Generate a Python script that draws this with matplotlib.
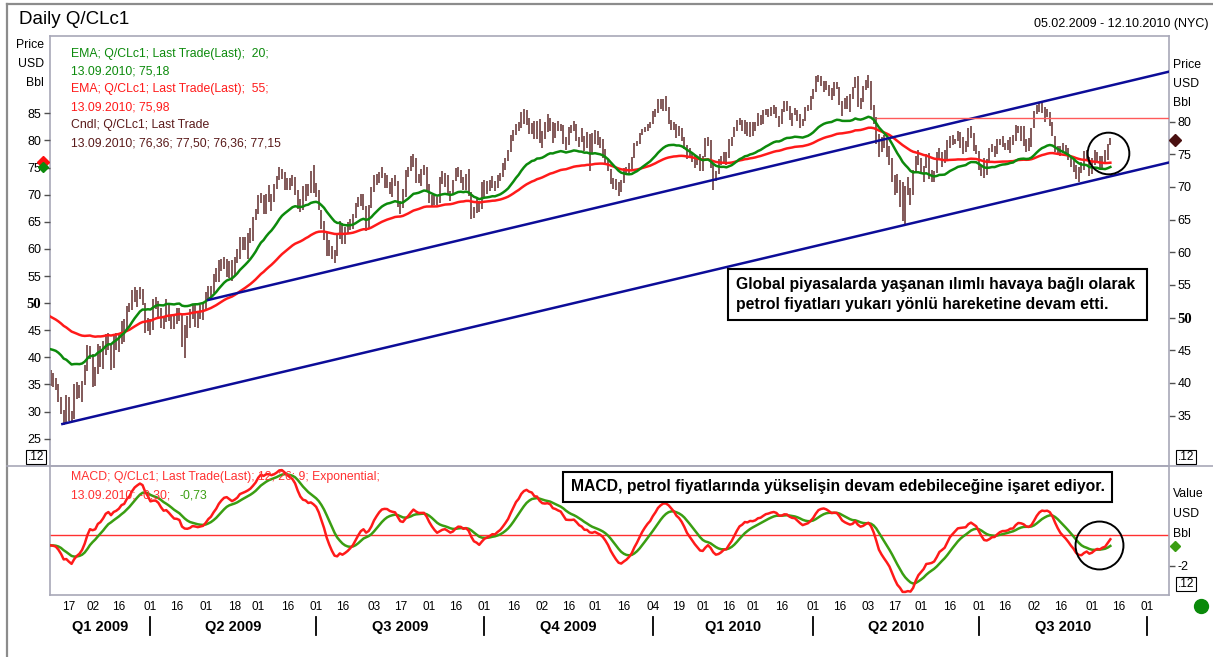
import numpy as np
import pandas as pd
import matplotlib
matplotlib.use('Agg')
import matplotlib.pyplot as plt
from matplotlib.lines import Line2D
from matplotlib.patches import Rectangle

plt.rcParams['font.family'] = ['Liberation Sans', 'DejaVu Sans']

# ---------------- data (daily Q/CLc1, 05.02.2009 - 13.09.2010) ----------------
holidays = ['2009-02-16', '2009-04-10', '2009-05-25', '2009-07-03', '2009-09-07',
            '2009-11-26', '2009-12-25', '2010-01-01', '2010-01-18', '2010-02-15',
            '2010-04-02', '2010-05-31', '2010-07-05', '2010-09-06']

close = [
    # Feb 2009
    41.17, 40.17, 39.56, 37.55, 35.94, 33.98, 37.51, 34.93, 34.62, 39.48, 38.94, 38.44, 39.96, 42.50, 45.22, 44.76,
    # Mar 2009
    40.15, 41.65, 45.38, 43.61, 45.52, 47.07, 45.71, 42.33, 47.03, 46.25, 47.35, 49.16, 48.14, 51.61, 51.06,
    53.80, 53.98, 53.77, 54.34, 52.38, 48.41, 49.66,
    # Apr 2009
    48.39, 52.64, 52.51, 51.05, 49.15, 49.38, 52.24, 50.05, 49.41, 49.25, 50.98, 50.33, 45.88, 48.55, 49.62,
    50.55, 51.55, 50.14, 49.92, 50.97, 51.12,
    # May 2009
    53.20, 54.47, 54.16, 56.34, 56.71, 58.63, 58.50, 58.85, 58.02, 56.34, 56.34, 59.03, 60.10, 62.04, 61.05,
    61.67, 62.45, 63.45, 65.08, 66.31,
    # Jun 2009
    68.58, 68.55, 66.12, 68.81, 68.44, 68.09, 70.01, 71.33, 72.68, 72.04, 70.62, 70.47, 71.03, 71.37, 69.55,
    66.93, 67.14, 68.67, 70.39, 69.16, 71.49, 69.89,
    # Jul 2009
    69.31, 66.73, 64.05, 62.93, 60.14, 60.41, 59.89, 59.69, 62.02, 64.62, 61.54, 63.56, 63.98, 64.72, 65.40,
    67.23, 68.05, 68.38, 67.23, 63.35, 66.94, 69.45,
    # Aug 2009
    71.58, 71.42, 71.97, 71.94, 70.93, 70.60, 69.45, 70.16, 70.52, 67.51, 66.75, 69.19, 72.42, 72.54, 73.89,
    74.37, 71.05, 71.43, 72.49, 72.74, 69.96,
    # Sep 2009
    68.05, 68.05, 67.96, 68.02, 71.10, 71.31, 70.91, 69.29, 68.86, 70.93, 72.51, 72.47, 71.04, 69.71, 71.55,
    68.97, 65.89, 66.02, 67.71, 66.71, 70.61,
    # Oct 2009
    70.82, 69.95, 70.41, 70.88, 69.57, 71.69, 71.77, 73.27, 74.15, 75.18, 77.58, 78.53, 79.61, 79.09, 81.37,
    80.95, 80.50, 78.68, 79.55, 77.46, 79.87, 77.00,
    # Nov 2009
    78.13, 79.60, 80.40, 79.62, 77.43, 79.43, 79.05, 79.28, 76.94, 76.35, 78.90, 79.14, 79.58, 77.46, 76.72,
    77.56, 76.02, 77.96, 76.05, 77.28,
    # Dec 2009
    78.37, 76.60, 76.46, 75.47, 73.93, 72.62, 70.67, 70.54, 69.87, 69.51, 70.69, 72.66, 72.58, 73.36, 74.40,
    76.67, 76.67, 78.05, 78.77, 78.87, 79.28, 79.36,
    # Jan 2010
    81.51, 81.77, 83.18, 82.66, 82.75, 81.89, 80.79, 79.65, 79.39, 78.00, 79.02, 77.62, 76.08, 74.54, 75.26,
    74.71, 73.67, 73.64, 72.89,
    # Feb 2010
    74.43, 77.23, 76.98, 73.14, 71.19, 71.89, 73.75, 74.52, 75.28, 74.13, 77.01, 77.33, 79.06, 79.81, 80.16,
    78.86, 80.00, 78.17, 79.66,
    # Mar 2010
    78.70, 79.68, 80.87, 80.21, 81.50, 81.87, 81.49, 82.09, 82.11, 81.24, 79.80, 81.70, 82.93, 82.20, 80.68,
    81.25, 81.91, 80.29, 80.00, 80.00, 82.17, 82.37, 83.76,
    # Apr 2010
    84.87, 86.62, 86.84, 85.88, 85.73, 84.92, 84.34, 84.05, 85.84, 85.51, 83.24, 82.20, 83.45, 83.68, 83.70,
    85.12, 86.84, 82.44, 83.22, 85.17, 86.15,
    # May 2010
    86.19, 82.74, 79.97, 77.11, 75.11, 76.80, 76.37, 75.65, 74.38, 71.61, 70.08, 69.41, 69.87, 68.01, 70.04,
    70.21, 68.75, 71.51, 74.55, 73.97,
    # Jun 2010
    72.58, 72.86, 74.61, 71.51, 71.44, 71.99, 74.38, 75.48, 73.78, 74.12, 76.94, 77.67, 76.79, 77.18, 77.76,
    76.35, 76.35, 76.51, 78.86, 78.26, 75.94, 75.63,
    # Jul 2010
    72.95, 72.14, 71.98, 74.07, 75.45, 76.09, 75.01, 77.01, 77.04, 76.62, 76.01, 76.54, 77.45, 76.66, 79.30,
    78.98, 77.50, 77.00, 75.97, 76.97, 78.95,
    # Aug 2010
    81.34, 82.55, 82.49, 82.01, 80.70, 81.48, 80.25, 78.02, 75.74, 75.39, 75.24, 75.77, 75.42, 74.43, 73.46,
    73.10, 71.63, 72.52, 73.36, 75.17, 74.70, 71.92,
    # Sep 2010
    73.91, 74.91, 74.60, 73.09, 74.67, 74.25, 76.45, 77.15,
]

high = [
    42.0, 41.5, 40.8, 39.9, 37.8, 35.9, 38.1, 37.8, 35.7, 39.9, 40.1, 39.6, 40.3, 42.8, 45.8, 45.6,
    44.4, 42.5, 45.9, 45.7, 46.4, 47.5, 47.6, 46.0, 47.3, 47.6, 47.6, 49.4, 49.8, 51.8, 52.2,
    54.2, 54.7, 54.2, 54.7, 54.3, 52.3, 49.9,
    49.8, 52.9, 53.1, 52.6, 51.5, 50.1, 52.8, 52.3, 50.3, 50.3, 51.5, 51.4, 50.5, 48.9, 50.3,
    51.3, 52.0, 51.9, 51.0, 51.9, 52.3,
    53.9, 54.8, 54.9, 56.6, 57.6, 58.8, 58.9, 59.2, 58.9, 58.6, 58.8, 59.2, 60.5, 62.3, 62.3,
    62.3, 62.9, 63.7, 65.4, 66.6,
    68.7, 69.1, 68.7, 69.0, 70.3, 68.9, 70.5, 71.7, 73.0, 72.8, 72.3, 71.3, 71.4, 71.8, 71.6,
    69.6, 68.1, 70.2, 70.5, 70.4, 72.4, 73.3,
    70.6, 69.5, 66.5, 64.8, 63.1, 61.9, 61.0, 60.4, 62.6, 64.8, 64.5, 63.9, 64.6, 65.1, 65.9,
    67.6, 68.4, 68.9, 68.9, 67.1, 67.3, 70.0,
    71.9, 72.0, 72.3, 73.0, 72.2, 71.8, 70.8, 71.4, 71.9, 70.9, 67.9, 69.7, 72.6, 73.1, 74.7,
    75.0, 74.5, 72.0, 72.8, 73.4, 73.1,
    70.5, 68.8, 68.9, 68.5, 71.5, 72.4, 72.2, 71.9, 69.4, 71.0, 72.9, 73.0, 72.6, 71.5, 72.0,
    72.8, 69.3, 66.9, 68.2, 67.9, 70.8,
    71.1, 70.9, 71.0, 71.7, 70.9, 71.9, 72.2, 73.6, 74.4, 75.6, 78.0, 78.8, 79.7, 80.0, 81.5,
    82.0, 81.8, 80.6, 79.8, 80.1, 80.1, 80.4,
    78.6, 79.9, 81.1, 80.5, 80.0, 79.8, 80.1, 79.7, 79.5, 77.6, 79.2, 79.5, 80.1, 79.7, 77.7,
    79.0, 77.8, 78.4, 78.1, 78.2,
    78.7, 78.5, 77.6, 77.3, 75.8, 74.2, 72.7, 71.4, 71.2, 70.8, 71.0, 72.9, 73.1, 73.7, 74.6,
    76.8, 77.1, 78.2, 78.9, 79.2, 79.6, 79.9,
    81.7, 81.9, 83.5, 83.4, 83.5, 83.95, 82.3, 80.3, 80.0, 79.7, 79.3, 79.0, 77.7, 76.5, 75.9,
    75.4, 74.7, 74.8, 75.0,
    74.8, 77.5, 77.7, 77.2, 73.6, 72.5, 74.3, 74.8, 75.4, 75.4, 77.3, 77.6, 79.2, 80.2, 80.5,
    80.3, 80.3, 80.0, 79.9,
    79.9, 80.0, 81.3, 81.0, 81.8, 82.0, 81.9, 82.3, 82.5, 82.3, 80.9, 81.9, 83.2, 83.1, 82.4,
    81.4, 82.1, 81.8, 81.1, 80.4, 82.3, 82.5, 83.9,
    85.0, 87.0, 87.1, 87.0, 86.3, 86.3, 85.6, 85.1, 86.0, 86.0, 85.3, 83.2, 83.6, 84.0, 84.2,
    85.3, 86.9, 87.0, 83.7, 85.5, 86.4,
    87.2, 86.3, 82.6, 80.7, 78.1, 77.6, 77.9, 77.2, 76.3, 74.5, 71.9, 72.0, 71.1, 70.7, 70.2,
    71.5, 69.9, 72.6, 74.7, 75.7,
    74.4, 73.2, 75.1, 75.2, 72.6, 72.4, 75.3, 76.0, 75.4, 75.6, 77.2, 77.8, 78.0, 77.4, 78.6,
    78.4, 77.6, 77.1, 79.0, 79.4, 78.3, 76.4,
    75.5, 73.3, 74.5, 74.3, 76.0, 76.6, 76.3, 77.3, 77.4, 77.8, 76.8, 77.2, 77.6, 78.0, 79.5,
    79.4, 79.4, 79.3, 77.3, 77.5, 79.1,
    81.6, 82.6, 82.9, 82.8, 82.3, 81.9, 81.5, 80.0, 77.8, 76.3, 76.2, 76.8, 76.4, 75.9, 74.7,
    74.1, 73.4, 73.0, 73.8, 75.5, 75.6, 74.6,
    74.5, 75.6, 75.4, 74.8, 74.8, 75.6, 76.6, 77.5,
]

low = [
    39.5, 39.4, 38.9, 37.0, 35.2, 33.6, 33.9, 34.1, 34.0, 34.5, 37.6, 37.7, 37.1, 39.6, 41.8, 43.6,
    39.4, 39.5, 41.4, 42.4, 42.1, 44.2, 45.1, 41.9, 42.3, 45.0, 44.8, 46.0, 46.2, 47.8, 50.8,
    51.2, 52.4, 51.6, 52.8, 51.9, 47.6, 48.0,
    47.4, 48.1, 51.3, 50.0, 48.4, 48.3, 49.3, 49.5, 48.2, 48.2, 49.0, 49.5, 45.5, 43.8, 46.8,
    48.4, 49.8, 48.6, 48.4, 49.8, 49.6,
    51.3, 52.6, 52.9, 53.7, 55.4, 55.5, 57.2, 57.4, 56.2, 56.0, 55.6, 56.3, 58.4, 59.0, 60.3,
    60.3, 59.0, 61.4, 61.8, 64.9,
    65.9, 67.6, 65.9, 65.9, 67.7, 66.3, 67.7, 69.7, 71.0, 71.2, 69.6, 69.5, 69.5, 70.2, 68.8,
    66.7, 66.1, 66.5, 67.8, 68.6, 69.1, 69.1,
    68.4, 66.4, 63.6, 61.9, 59.5, 59.5, 58.9, 58.3, 59.5, 62.1, 61.3, 61.2, 63.0, 63.4, 63.5,
    65.2, 66.9, 67.1, 66.5, 63.2, 63.6, 66.8,
    69.3, 70.3, 70.6, 71.3, 69.8, 69.9, 68.9, 68.5, 70.1, 67.0, 65.9, 66.8, 68.4, 71.6, 72.5,
    73.0, 70.6, 70.6, 70.1, 71.8, 69.6,
    67.6, 67.1, 67.2, 67.3, 67.6, 70.4, 70.0, 68.8, 67.9, 68.7, 70.9, 71.5, 70.6, 69.6, 69.6,
    68.6, 65.1, 65.3, 66.0, 66.1, 66.7,
    68.4, 69.0, 69.4, 69.9, 69.4, 69.8, 70.9, 71.5, 72.6, 74.0, 75.3, 77.0, 78.0, 78.6, 79.1,
    79.6, 79.5, 78.1, 78.1, 77.3, 77.4, 76.7,
    76.0, 77.4, 78.4, 78.6, 76.8, 77.5, 78.5, 78.6, 76.6, 75.7, 76.5, 78.3, 78.6, 77.1, 76.1,
    76.9, 75.5, 75.9, 72.4, 75.2,
    76.6, 76.4, 75.9, 74.5, 73.5, 72.4, 70.5, 69.7, 69.6, 68.6, 69.3, 70.6, 71.9, 72.2, 72.8,
    74.4, 76.2, 76.6, 77.9, 78.4, 78.6, 79.1,
    79.6, 80.7, 81.3, 81.9, 81.6, 81.6, 79.6, 78.8, 78.8, 77.5, 77.8, 77.1, 75.8, 74.3, 74.4,
    73.8, 72.9, 73.3, 72.4,
    72.4, 74.6, 76.3, 72.9, 69.5, 70.9, 72.0, 73.3, 73.8, 73.3, 74.4, 76.2, 77.6, 78.5, 79.5,
    78.5, 78.1, 77.8, 77.7,
    77.8, 78.6, 79.4, 79.5, 79.7, 81.0, 80.7, 80.8, 81.1, 80.6, 79.2, 79.6, 81.5, 81.7, 80.2,
    79.4, 81.0, 80.1, 79.1, 79.4, 80.1, 81.6, 81.8,
    83.4, 84.6, 86.0, 85.5, 84.6, 84.8, 84.0, 83.3, 84.0, 85.0, 82.6, 80.9, 82.0, 81.9, 81.5,
    83.4, 85.1, 82.2, 81.9, 83.0, 84.9,
    85.2, 81.8, 79.6, 76.6, 74.6, 75.3, 75.9, 74.6, 73.3, 70.7, 68.7, 69.1, 66.9, 64.8, 64.2,
    68.7, 67.2, 68.7, 72.3, 73.4,
    72.0, 70.8, 72.9, 71.2, 70.8, 70.8, 72.2, 74.3, 73.0, 73.7, 74.2, 76.0, 76.4, 76.6, 77.0,
    76.0, 75.1, 75.3, 76.1, 77.5, 75.5, 75.0,
    72.6, 71.7, 71.4, 71.8, 73.9, 75.3, 74.6, 75.1, 76.4, 76.1, 75.6, 75.6, 75.2, 76.4, 77.0,
    78.2, 77.0, 76.2, 75.4, 75.5, 76.1,
    79.0, 81.1, 81.5, 81.4, 80.0, 80.7, 79.3, 77.8, 75.3, 75.0, 74.7, 75.2, 74.7, 74.2, 73.0,
    72.3, 71.2, 70.8, 72.2, 72.6, 74.1, 71.7,
    72.0, 73.4, 73.9, 72.9, 72.8, 73.9, 74.1, 76.36,
]

# indicator starting values at 05.02.2009
ema20_start, ema55_start = 41.5, 47.5
ema12_start, ema26_start, signal_start = 41.1, 41.8, -0.70

# x-axis tick dates and quarter labels
tick_dates = ['2009-02-17', '2009-03-02', '2009-03-16', '2009-04-01', '2009-04-16', '2009-05-01',
              '2009-05-18', '2009-06-01', '2009-06-16', '2009-07-01', '2009-07-16', '2009-08-03',
              '2009-08-17', '2009-09-01', '2009-09-16', '2009-10-01', '2009-10-16', '2009-11-02',
              '2009-11-16', '2009-12-01', '2009-12-16', '2010-01-04', '2010-01-19', '2010-02-01',
              '2010-02-16', '2010-03-01', '2010-03-16', '2010-04-01', '2010-04-16', '2010-05-03',
              '2010-05-17', '2010-06-01', '2010-06-16', '2010-07-01', '2010-07-16', '2010-08-02',
              '2010-08-16', '2010-09-01', '2010-09-16', '2010-10-01']
quarter_starts = ['2009-04-01', '2009-07-01', '2009-10-01', '2010-01-04', '2010-04-01', '2010-07-01', '2010-10-01']
quarter_labels = ['Q1 2009', 'Q2 2009', 'Q3 2009', 'Q4 2009', 'Q1 2010', 'Q2 2010', 'Q3 2010']

left_ticks = [25, 30, 35, 40, 45, 50, 55, 60, 65, 70, 75, 80, 85]
right_ticks = [35, 40, 45, 50, 55, 60, 65, 70, 75, 80]

# trend lines / annotations (date index, price on right scale)
trend_low_x, trend_low_y = [4.5, 425.3], [33.7, 73.75]
trend_high_x, trend_high_y = [60.0, 425.3], [52.7, 87.66]
resist_x, resist_y = [314.1, 425.3], [80.6, 80.6]

# ---------------- computations ----------------
days = pd.bdate_range('2009-02-05', '2010-10-12')
days = days[~days.isin(pd.to_datetime(holidays))]
pos = {d.strftime('%Y-%m-%d'): i for i, d in enumerate(days)}

close = np.array(close)
high = np.array(high)
low = np.array(low)
n = len(close)
assert len(high) == n and len(low) == n, (len(close), len(high), len(low))
x = np.arange(n)


def ema(values, period, start):
    a = 2.0 / (period + 1)
    out = [start]
    for v in values[1:]:
        out.append(out[-1] + a * (v - out[-1]))
    return np.array(out)


ema20 = ema(close, 20, ema20_start)
ema55 = ema(close, 55, ema55_start)
macd = ema(close, 12, ema12_start) - ema(close, 26, ema26_start)
signal = ema(np.concatenate([[signal_start], macd[1:]]), 9, signal_start)

# ---------------- figure ----------------
W, H = 1213, 657
fig = plt.figure(figsize=(W / 100, H / 100), dpi=100)
fig.patch.set_facecolor('white')


def fx(p):
    return p / W


def fy(p):
    return 1 - p / H


L, R, T, MID, B = 50, 1169, 36, 466, 595
ax_c = fig.add_axes([fx(L), fy(MID), fx(R) - fx(L), fy(T) - fy(MID)])
ax_e = ax_c.twinx()
ax_m = fig.add_axes([fx(L), fy(B), fx(R) - fx(L), fy(MID) - fy(B)])

CANDLE = '#673434'
GREEN = '#0c8a0c'
RED = '#ff1a1a'
BLUE = '#0c0c98'
SPINE = '#a8a8b8'
XLIM = (-0.2, 425.3)

# candles (right scale)
ax_c.vlines(x, low, high, color=CANDLE, lw=1.15, zorder=2)
ax_c.set_ylim(27.27, 93.12)
ax_c.set_xlim(*XLIM)

# EMAs (left scale)
ax_e.plot(x, ema55, color=RED, lw=1.8, zorder=3)
ax_e.plot(x, ema20, color=GREEN, lw=1.8, zorder=3)
ax_e.set_ylim(19.97, 99.25)
ax_e.set_xlim(*XLIM)

# trend lines etc. in candle coordinates, drawn on top
ax_e.plot(trend_low_x, trend_low_y, color=BLUE, lw=1.8, transform=ax_c.transData, zorder=4)
ax_e.plot(trend_high_x, trend_high_y, color=BLUE, lw=1.8, transform=ax_c.transData, zorder=4)
ax_e.plot(resist_x, resist_y, color='#ff5a5a', lw=1.0, transform=ax_c.transData, zorder=4)
ax_e.plot([402.1], [75.25], 'o', ms=30, mfc='none', mec='black', mew=1.4,
          transform=ax_c.transData, zorder=5)

# y axes
ax_c.yaxis.tick_right()
ax_c.set_yticks(right_ticks)
ax_c.set_yticklabels([str(t) for t in right_ticks])
ax_e.yaxis.tick_left()
ax_e.set_yticks(left_ticks)
ax_e.set_yticklabels([str(t) for t in left_ticks])
for a in (ax_c, ax_e):
    a.set_xticks([])
    a.tick_params(axis='y', direction='out', length=4.5, width=1, color='#505050',
                  labelsize=9, pad=1.8, labelcolor='black')
for a in (ax_c, ax_e):
    for lab in a.get_yticklabels():
        if lab.get_text() == '50':
            lab.set_fontweight('bold')
            lab.set_fontfamily(['Liberation Serif', 'DejaVu Serif'])
            lab.set_fontsize(10.5)

for sp in ax_e.spines.values():
    sp.set_visible(False)
for a in (ax_c, ax_m):
    for sp in a.spines.values():
        sp.set_color(SPINE)
        sp.set_linewidth(1.2)

# last value markers
ax_e.plot([-0.006], [75.98], marker='D', ms=6.5, color='#ff1010', transform=ax_e.get_yaxis_transform(),
          clip_on=False, zorder=6)
ax_e.plot([-0.006], [75.18], marker='D', ms=5.5, color='#0c8a0c', transform=ax_e.get_yaxis_transform(),
          clip_on=False, zorder=6)
ax_c.plot([1.0055], [close[-1]], marker='D', ms=6, color='#4a1010', transform=ax_c.get_yaxis_transform(),
          clip_on=False, zorder=6)

# ---------------- MACD panel ----------------
ax_m.axhline(0, color='#ff3030', lw=1.0, zorder=2)
ax_m.plot(x, signal, color='#3a9e12', lw=1.8, zorder=3)
ax_m.plot(x, macd, color=RED, lw=1.8, zorder=3)
ax_m.plot([398.6], [-0.68], 'o', ms=34.5, mfc='none', mec='black', mew=1.4, zorder=5)
ax_m.set_xlim(*XLIM)
ax_m.set_ylim(-3.90, 4.42)
ax_m.yaxis.tick_right()
ax_m.set_yticks([-2])
ax_m.set_yticklabels(['-2'])
ax_m.tick_params(axis='y', direction='out', length=4.5, width=1, color='#505050', labelsize=9, pad=1.8)
ax_m.set_xticks([pos[d] for d in tick_dates])
ax_m.set_xticklabels([d[-2:] for d in tick_dates])
ax_m.tick_params(axis='x', length=0, pad=4, labelsize=8.5)
ax_m.plot([1.0055], [signal[-1]], marker='D', ms=5.5, color='#3a9e12',
          transform=ax_m.get_yaxis_transform(), clip_on=False, zorder=6)

# quarter separators and labels
qt = ax_m.get_xaxis_transform()
bounds = [XLIM[0]] + [pos[q] for q in quarter_starts]
for q in quarter_starts:
    ax_m.plot([pos[q], pos[q]], [-0.17, -0.31], color='black', lw=1.3, transform=qt, clip_on=False)
for i, lab in enumerate(quarter_labels):
    ax_m.text((bounds[i] + bounds[i + 1]) / 2, -0.245, lab, transform=qt, ha='center', va='center',
              fontsize=10.5, fontweight='bold')

# ---------------- texts and frame ----------------
fig.text(fx(19), fy(20), 'Daily Q/CLc1', fontsize=13.5, va='center', ha='left')
fig.text(fx(1208), fy(24), '05.02.2009 - 12.10.2010 (NYC)', fontsize=9, va='center', ha='right')
for i, s in enumerate(['Price', 'USD', 'Bbl']):
    fig.text(fx(44), fy(45 + 19 * i), s, fontsize=8.8, ha='right', va='center')
    fig.text(fx(1173), fy(65 + 19 * i), s, fontsize=8.8, ha='left', va='center')
for i, s in enumerate(['Value', 'USD', 'Bbl']):
    fig.text(fx(1173), fy(494 + 20 * i), s, fontsize=8.8, ha='left', va='center')

legend_lines = [('EMA; Q/CLc1; Last Trade(Last);  20;', GREEN),
                ('13.09.2010; 75,18', GREEN),
                ('EMA; Q/CLc1; Last Trade(Last);  55;', RED),
                ('13.09.2010; 75,98', RED),
                ('Cndl; Q/CLc1; Last Trade', '#5a1a1a'),
                ('13.09.2010; 76,36; 77,50; 76,36; 77,15', '#5a1a1a')]
for i, (s, c) in enumerate(legend_lines):
    fig.text(fx(71), fy(53.5 + 17.9 * i), s, color=c, fontsize=8.8, ha='left', va='center')

fig.text(fx(71), fy(477), 'MACD; Q/CLc1; Last Trade(Last); 12; 26; 9; Exponential;', color='#ff3030',
         fontsize=8.8, ha='left', va='center')
fig.text(fx(71), fy(495), '13.09.2010; -0,30; ', color='#ff3030', fontsize=8.8, ha='left', va='center')
fig.text(fx(180), fy(495), '-0,73', color='#3a9e12', fontsize=8.8, ha='left', va='center')

# comment boxes
fig.add_artist(Rectangle((fx(728), fy(320)), fx(1147) - fx(728), fy(269) - fy(320),
                         transform=fig.transFigure, facecolor='white', edgecolor='black', lw=1.5, zorder=10))
fig.text(fx(736), fy(284), 'Global piyasalarda yaşanan ılımlı havaya bağlı olarak', fontsize=11.3,
         fontweight='bold', ha='left', va='center', zorder=11)
fig.text(fx(736), fy(304), 'petrol fiyatları yukarı yönlü hareketine devam etti.', fontsize=11.3,
         fontweight='bold', ha='left', va='center', zorder=11)
fig.add_artist(Rectangle((fx(563), fy(502)), fx(1112) - fx(563), fy(472) - fy(502),
                         transform=fig.transFigure, facecolor='white', edgecolor='black', lw=1.5, zorder=10))
fig.text(fx(571), fy(487), 'MACD, petrol fiyatlarında yükselişin devam edebileceğine işaret ediyor.',
         fontsize=11.3, fontweight='bold', ha='left', va='center', zorder=11)

# ".12" boxes
for (px, py) in [(36, 457), (1186, 457), (1186, 584)]:
    fig.text(fx(px), fy(py), '.12', fontsize=8.5, ha='center', va='center', zorder=12,
             bbox=dict(boxstyle='square,pad=0.12', fc='white', ec='black', lw=0.8))

# outer frame and panel separator
fig.add_artist(Line2D([fx(7), fx(7)], [fy(4), 0], color='#8c8c8c', lw=1.6, transform=fig.transFigure))
fig.add_artist(Line2D([fx(7), 1], [fy(4), fy(4)], color='#8c8c8c', lw=1.6, transform=fig.transFigure))
fig.add_artist(Line2D([fx(7), 1], [fy(466), fy(466)], color=SPINE, lw=1.2, transform=fig.transFigure))

# status dot
fig.add_artist(Line2D([fx(1201)], [fy(606)], marker='o', ms=10, color='#0a8a0a', lw=0,
                      transform=fig.transFigure))

fig.savefig('out.png', dpi=100, facecolor='white')
